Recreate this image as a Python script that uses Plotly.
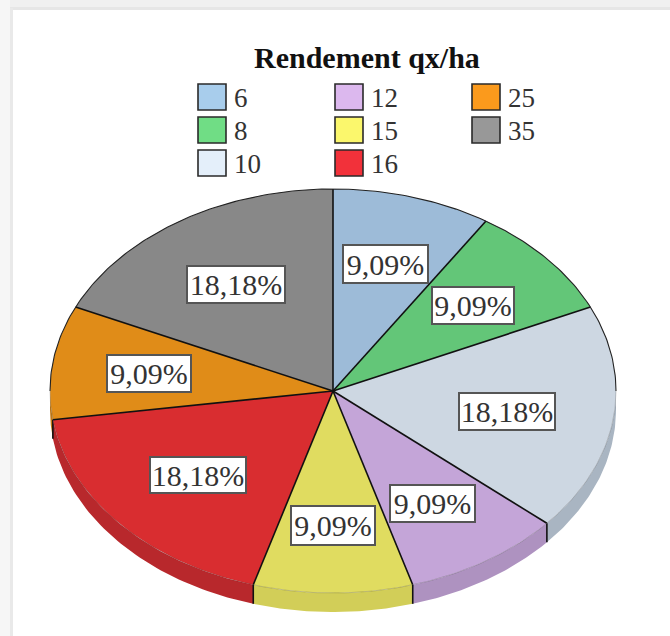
import numpy as np
import plotly.graph_objects as go

TITLE = "Rendement qx/ha"
categories = ["6", "8", "10", "12", "15", "16", "25", "35"]
counts = [1, 1, 2, 1, 1, 2, 1, 2]
percent_labels = ["9,09%", "9,09%", "18,18%", "9,09%", "9,09%", "18,18%", "9,09%", "18,18%"]

face_colors = ["#9dbbd8", "#63c678", "#cdd7e2", "#c4a5d8", "#e0dc60", "#d92d30", "#e08c18", "#888888"]
wall_colors = ["#8aa3bc", "#56ad69", "#a9b5c2", "#ae92c0", "#d2ce58", "#b8282c", "#c07814", "#747474"]
legend_colors = ["#a8cdec", "#70dd85", "#e4effa", "#dcb8ee", "#fbf76c", "#f2313a", "#fb9a1c", "#989898"]

W, H = 670, 636
CX, CY, RX, RY, DEPTH = 333, 391, 283, 202, 19
FONT = "Liberation Serif"

label_boxes = [(342, 244, 429, 284), (431, 286, 515, 325), (458, 392, 556, 431), (389, 484, 476, 523),
               (290, 505, 376, 546), (149, 456, 247, 494), (106, 354, 192, 393), (186, 265, 286, 304)]
legend_slots = [(212, 97), (212, 130), (212, 163), (349, 97), (349, 130), (349, 163), (486, 97), (486, 130)]


def px(x):
    return x / W


def py(y):
    return 1 - y / H


total = sum(counts)
edges = np.cumsum([0] + counts) / total * 2 * np.pi
fig = go.Figure()
common = dict(mode="lines", hoverinfo="skip", showlegend=False)
d = DEPTH / RY

# side wall of the tilted disc (only the front half shows)
for i in range(len(counts)):
    a, b = max(edges[i], np.pi / 2), min(edges[i + 1], 3 * np.pi / 2)
    if b <= a:
        continue
    t = np.linspace(a, b, 60)
    fig.add_trace(go.Scatter(
        x=np.r_[np.sin(t), np.sin(t)[::-1]],
        y=np.r_[np.cos(t), np.cos(t)[::-1] - d],
        fill="toself", fillcolor=wall_colors[i], line=dict(width=0), **common))

# vertical seams of the wall
for e in edges:
    if np.pi / 2 < e < 3 * np.pi / 2:
        fig.add_trace(go.Scatter(x=[np.sin(e)] * 2, y=[np.cos(e), np.cos(e) - d],
                                 line=dict(color="#111111", width=1.6), **common))

# top faces
for i in range(len(counts)):
    t = np.linspace(edges[i], edges[i + 1], 80)
    fig.add_trace(go.Scatter(
        x=np.r_[0, np.sin(t), 0], y=np.r_[0, np.cos(t), 0],
        fill="toself", fillcolor=face_colors[i], line=dict(width=0), **common))

# radial lines and rim
for e in edges[:-1]:
    fig.add_trace(go.Scatter(x=[0, np.sin(e)], y=[0, np.cos(e)],
                             line=dict(color="#111111", width=1.6), **common))
t = np.linspace(-np.pi / 2, np.pi / 2, 200)
fig.add_trace(go.Scatter(x=np.sin(t), y=np.cos(t), line=dict(color="#222222", width=1.1), **common))
t = np.linspace(np.pi / 2, 3 * np.pi / 2, 200)
fig.add_trace(go.Scatter(x=np.sin(t), y=np.cos(t), line=dict(color="rgba(60,60,60,0.25)", width=1), **common))

annotations = [dict(text=f"<b>{TITLE}</b>", x=px(367), y=py(57), xref="paper", yref="paper",
                    xanchor="center", yanchor="middle",
                    showarrow=False, font=dict(family=FONT, size=30, color="#111111"))]

# percent labels
for text, (x0, y0, x1, y1) in zip(percent_labels, label_boxes):
    annotations.append(dict(
        text=text, x=px((x0 + x1) / 2), y=py((y0 + y1) / 2), xref="paper", yref="paper",
        xanchor="center", yanchor="middle",
        showarrow=False, width=x1 - x0 - 4, height=y1 - y0 - 4, align="center", valign="middle",
        borderpad=0, borderwidth=2, bordercolor="#555555", bgcolor="#ffffff",
        font=dict(family=FONT, size=30, color="#333333")))

# legend
shapes = [
    dict(type="rect", xref="paper", yref="paper", x0=0, x1=1, y0=py(8), y1=1, layer="below",
         fillcolor="#f0f0f0", line=dict(width=0)),
    dict(type="rect", xref="paper", yref="paper", x0=0, x1=1, y0=py(10), y1=py(7), layer="below",
         fillcolor="#e6e6e6", line=dict(width=0)),
    dict(type="rect", xref="paper", yref="paper", x0=0, x1=px(10), y0=0, y1=1, layer="below",
         fillcolor="#f6f6f6", line=dict(width=0)),
    dict(type="rect", xref="paper", yref="paper", x0=px(10), x1=px(13), y0=0, y1=py(8), layer="below",
         fillcolor="#e9e9e9", line=dict(width=0)),
]
for cat, color, (x, y) in zip(categories, legend_colors, legend_slots):
    shapes.append(dict(type="rect", xref="paper", yref="paper", x0=px(x - 14), x1=px(x + 14),
                       y0=py(y + 13), y1=py(y - 13), fillcolor=color,
                       line=dict(color="#2a2a2a", width=1.6)))
    annotations.append(dict(text=cat, x=px(x + 20), y=py(y + 1), xref="paper", yref="paper",
                            xanchor="left", yanchor="middle", showarrow=False,
                            font=dict(family=FONT, size=27, color="#333333")))

hidden = dict(visible=False, showgrid=False, zeroline=False, fixedrange=True)
fig.update_layout(
    width=W, height=H, autosize=False,
    margin=dict(l=0, r=0, t=0, b=0),
    paper_bgcolor="#ffffff", plot_bgcolor="rgba(0,0,0,0)",
    showlegend=False, shapes=shapes, annotations=annotations,
    xaxis=dict(range=[(0 - CX) / RX, (W - CX) / RX], **hidden),
    yaxis=dict(range=[(CY - H) / RY, CY / RY], **hidden),
)
fig.write_html("out.html", config=dict(displayModeBar=False),
               post_script="document.body.style.margin='0';document.body.style.overflow='hidden';")
